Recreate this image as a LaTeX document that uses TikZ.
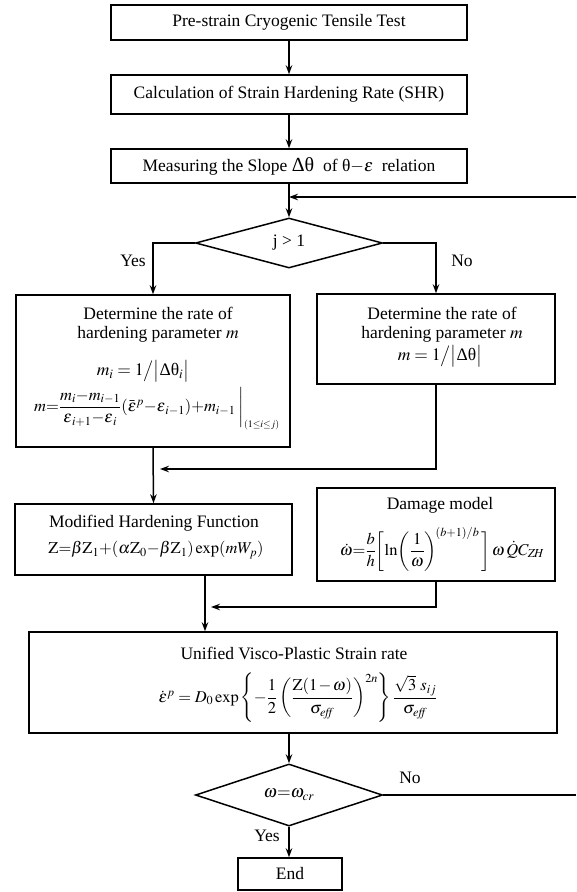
\documentclass[tikz,border=0pt]{standalone}
\usepackage{amsmath}
\usepackage{mathptmx}
\usepackage{fontspec}
\setmainfont{Liberation Serif}
\usetikzlibrary{shapes.geometric,arrows.meta}
\begin{document}
\thinmuskip=2mu
\medmuskip=1.5mu
\thickmuskip=2mu
\begin{tikzpicture}[x=1pt,y=-1pt,
  every node/.style={font=\fontsize{17.5}{21}\selectfont},
  boxst/.style={draw, line width=1.5pt, rectangle, inner sep=0pt},
  dia/.style={draw, line width=1.5pt, diamond, inner sep=0pt, minimum width=187pt, minimum height=50pt},
  txt/.style={inner sep=0pt},
  conn/.style={line width=1.5pt},
  arr/.style={conn, -{Stealth[length=9pt,width=6.5pt]}}]
\useasboundingbox (0,0) rectangle (576,892);

\node[boxst, minimum width=356pt, minimum height=35pt] (b1) at (289,22.5) {Pre-strain Cryogenic Tensile\ Test};
\node[boxst, minimum width=356pt, minimum height=39pt] (b2) at (289,94.5) {Calculation of Strain Hardening Rate (SHR)};
\node[boxst, minimum width=356pt, minimum height=34pt] (b3) at (289,166) {Measuring the Slope {\fontsize{20}{21}\selectfont Δθ}\ \ of θ$-\varepsilon$\ \ relation};
\draw[arr] (b1) -- (b2);
\draw[arr] (b2) -- (b3);

\coordinate (fb) at (576,197);
\node[dia] (d1) at (289,243) {j > 1};
\draw[arr] (b3.south) -- (d1.north);
\draw[arr] (fb) -- (b3.south |- fb);

\node[boxst, minimum width=274pt, minimum height=152pt] (L) at (153,371) {};
\node[boxst, minimum width=238pt, minimum height=90pt] (R) at (436,339) {};
\draw[arr] (d1.west) -| (L.north);
\draw[arr] (d1.east) -| (R.north);
\node[txt] (yes1) at (133,261) {Yes};
\node[txt] (no1) at (462,261) {No};

\node[txt] (L1) at (158,313) {Determine the rate of};
\node[txt] (L2) at (158,334) {hardening parameter $m$};
\node[txt] (L3) at (143,371) {$m_{i} \;=\; 1\big/\big|\mbox{Δθ}_{i}\big|$};
\node[txt, font=\fontsize{16.5}{19}\selectfont] (L4) at (157,409) {$m{=}\dfrac{m_i{-}m_{i-1}}{\boldsymbol\varepsilon_{i+1}{-}\boldsymbol\varepsilon_{i}}(\bar{\boldsymbol\varepsilon}^p{-}\boldsymbol\varepsilon_{i-1}){+}m_{i-1}\left.\vphantom{\dfrac{m}{\varepsilon_1}}\right|_{\scriptscriptstyle(1\le i\le j)}$};

\node[txt] (R1) at (442,313) {Determine the rate of};
\node[txt] (R2) at (442,334) {hardening parameter $m$};
\node[txt] (R3) at (440,356) {$m \;=\; 1\big/\big|\mbox{Δθ}\big|$};

\node[boxst, minimum width=277pt, minimum height=71pt] (M) at (153.5,539.5) {};
\coordinate (mj) at (160,469);
\draw[arr] (L.south) -- (M.north);
\draw[arr] (R.south) |- (mj);
\node[txt] (M1) at (154,523) {Modified Hardening Function};
\node[txt, font=\fontsize{16.5}{19}\selectfont] (M2) at (156,550) {$\mathrm{Z}{=}\beta \mathrm{Z}_1{+}(\alpha \mathrm{Z}_0{-}\beta \mathrm{Z}_1)\exp(mW_p)$};

\node[boxst, minimum width=238pt, minimum height=93pt] (D) at (436,534.5) {};
\node[txt] (D1) at (440,505) {Damage model};
\node[txt, font=\fontsize{16.5}{19}\selectfont] (D2) at (442,549) {$\dot{\omega}{=}\dfrac{b}{h}\biggl[\ln\biggl(\dfrac{1}{\omega}\biggr)^{\!(b+1)/b}\,\biggr]\;\omega\,\dot{Q}C_{Z\!H}$};

\node[boxst, minimum width=528pt, minimum height=101pt] (U) at (293,682.5) {};
\coordinate (mout) at (205,575);
\coordinate (dj) at (211,607);
\draw[arr] (mout) -- (mout |- U.north);
\draw[arr] (D.south) |- (dj);
\node[txt] (U1) at (294,653) {Unified Visco-Plastic Strain rate};
\node[txt, font=\fontsize{16.5}{19}\selectfont] (U2) at (298,698) {$\dot{\varepsilon}^{p} \;=\; D_0\exp\left\{-\dfrac{1}{2}\left(\dfrac{\mathrm{Z}(1-\omega)}{\sigma_{\mathit{eff}}}\right)^{2n}\right\}\dfrac{\sqrt{3}\ s_{ij}}{\sigma_{\mathit{eff}}}$};

\node[dia] (d2) at (289,795) {$\omega{=}\omega_{cr}$};
\draw[arr] (U.south -| d2.north) -- (d2.north);
\coordinate (nx) at (576,795);
\draw[conn] (d2.east) -- (nx);
\node[txt] (no2) at (410,778) {No};
\node[boxst, minimum width=104pt, minimum height=32pt] (E) at (290,874) {End};
\draw[arr] (d2.south) -- (d2.south |- E.north);
\node[txt] (yes2) at (267,836) {Yes};
\end{tikzpicture}
\end{document}
